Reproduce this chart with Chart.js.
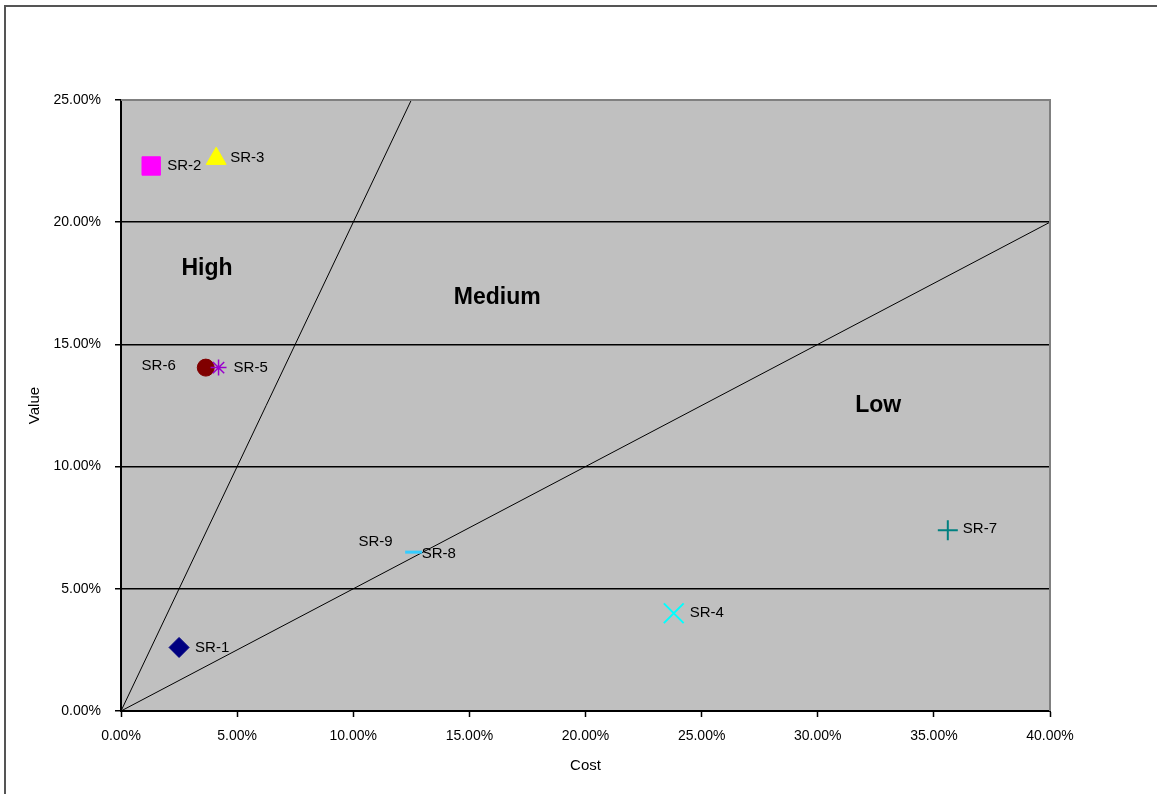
<!DOCTYPE html>
<html>
<head>
<meta charset="utf-8">
<script src="https://cdn.jsdelivr.net/npm/chart.js@4/dist/chart.umd.min.js"></script>
<style>
  html, body { margin: 0; padding: 0; background: #fff; }
  #wrap { position: relative; width: 1157px; height: 794px; overflow: hidden; }
  #frame { position: absolute; left: 4px; top: 5px; width: 1300px; height: 900px;
           border-left: 2px solid #555; border-top: 2px solid #555; }
  canvas { position: absolute; left: 0; top: 0; }
</style>
</head>
<body>
<div id="wrap">
  <div id="frame"></div>
  <canvas id="chart" width="1157" height="794"></canvas>
</div>
<script>
// data (percent)
const srNames = ["SR-1", "SR-2", "SR-3", "SR-4", "SR-5", "SR-6", "SR-7", "SR-8", "SR-9"];
const srCost  = [2.5, 1.3, 4.1, 23.8, 4.2, 3.65, 35.6, 12.6, 12.6];
const srValue = [2.6, 22.3, 22.6, 4.0, 14.05, 14.05, 7.4, 6.5, 6.5];

const zoneNames = ["High", "Medium", "Low"];
const zoneCost  = [3.7, 16.2, 32.6];
const zoneValue = [18.1, 16.9, 12.5];

// boundary lines  value = 2*cost  and  value = 0.5*cost
const highLineCost  = [0, 12.5];
const highLineValue = [0, 25];
const lowLineCost   = [0, 40];
const lowLineValue  = [0, 20];

const xTickValues = [0, 5, 10, 15, 20, 25, 30, 35, 40];
const yTickValues = [0, 5, 10, 15, 20, 25];

// marker look for each SR point
const markerStyle = ["rectRot", "rect", "triangle", "crossRot", "star", "circle", "cross", "line", "circle"];
const markerColor = ["#000080", "#FF00FF", "#FFFF00", "#00FFFF", "#9900CC", "#800000", "#008080", "#33CCFF", "#000000"];
const markerSize  = [10, 13, 11.5, 14, 8, 8.5, 10, 8.5, 0];
const markerLine  = [1, 1, 1, 2, 1.5, 1, 2, 3, 1];
// label offset from point (dx, dy) and alignment
const labelDx    = [16, 16, 14, 16, 15, -30, 15, 8, -21];
const labelDy    = [0, 0, -1, 0, 0, -2, -1, 2, -10];
const labelAlign = ["left", "left", "left", "left", "left", "right", "left", "left", "right"];

const datasets = srNames.map((name, i) => ({
  label: name,
  data: [{ x: srCost[i], y: srValue[i] }],
  pointStyle: markerStyle[i],
  pointRadius: markerSize[i],
  pointBackgroundColor: markerColor[i],
  pointBorderColor: markerColor[i],
  pointBorderWidth: markerLine[i],
  order: 0
}));

datasets.push({
  label: "high-boundary",
  data: highLineCost.map((c, i) => ({ x: c, y: highLineValue[i] })),
  showLine: true, borderColor: "#000", borderWidth: 1, pointRadius: 0, order: 5
});
datasets.push({
  label: "low-boundary",
  data: lowLineCost.map((c, i) => ({ x: c, y: lowLineValue[i] })),
  showLine: true, borderColor: "#000", borderWidth: 1, pointRadius: 0, order: 5
});

const plotArea = {
  id: "plotArea",
  beforeDraw(chart) {
    const { ctx, chartArea: a } = chart;
    ctx.save();
    ctx.fillStyle = "#C0C0C0";
    ctx.fillRect(a.left, a.top, a.right - a.left, a.bottom - a.top);
    ctx.restore();
  },
  afterDraw(chart) {
    const { ctx, chartArea: a } = chart;
    ctx.save();
    ctx.strokeStyle = "#808080";
    ctx.lineWidth = 2;
    ctx.beginPath();
    ctx.moveTo(a.left, a.top);
    ctx.lineTo(a.right, a.top);
    ctx.lineTo(a.right, a.bottom);
    ctx.stroke();
    ctx.restore();
  }
};

const textLabels = {
  id: "textLabels",
  afterDatasetsDraw(chart) {
    const { ctx } = chart;
    const xs = chart.scales.x, ys = chart.scales.y;
    ctx.save();
    ctx.fillStyle = "#000";
    ctx.textBaseline = "middle";
    ctx.font = "15px Arial, 'Liberation Sans', sans-serif";
    srNames.forEach((name, i) => {
      ctx.textAlign = labelAlign[i];
      ctx.fillText(name, xs.getPixelForValue(srCost[i]) + labelDx[i], ys.getPixelForValue(srValue[i]) + labelDy[i]);
    });
    ctx.font = "bold 23px Arial, 'Liberation Sans', sans-serif";
    ctx.textAlign = "center";
    zoneNames.forEach((name, i) => {
      ctx.fillText(name, xs.getPixelForValue(zoneCost[i]), ys.getPixelForValue(zoneValue[i]));
    });
    ctx.restore();
  }
};

const tickFont = { family: "Arial, 'Liberation Sans', sans-serif", size: 14 };
const titleFont = { family: "Arial, 'Liberation Sans', sans-serif", size: 15 };

new Chart(document.getElementById("chart"), {
  type: "scatter",
  data: { datasets },
  options: {
    responsive: false,
    devicePixelRatio: 1,
    animation: false,
    events: [],
    layout: { padding: { left: 15, top: 100, right: 107, bottom: 10 } },
    plugins: { legend: { display: false }, tooltip: { enabled: false } },
    scales: {
      x: {
        type: "linear", min: 0, max: 40,
        afterBuildTicks: (s) => { s.ticks = xTickValues.map(v => ({ value: v })); },
        afterFit: (s) => { s.height = 73; },
        ticks: { color: "#000", font: tickFont, padding: 11, maxRotation: 0,
                 callback: (v) => v.toFixed(2) + "%" },
        grid: { drawOnChartArea: false, tickLength: 6, tickColor: "#000", tickWidth: 1.5 },
        border: { color: "#000", width: 2 },
        title: { display: true, text: "Cost", color: "#000", padding: 9, font: titleFont }
      },
      y: {
        type: "linear", min: 0, max: 25,
        afterBuildTicks: (s) => { s.ticks = yTickValues.map(v => ({ value: v })); },
        afterFit: (s) => { s.width = 106; },
        ticks: { color: "#000", font: tickFont, padding: 14,
                 callback: (v) => v.toFixed(2) + "%" },
        grid: {
          color: (c) => (c.tick && c.tick.value === 25) ? "rgba(0,0,0,0)" : "#000",
          lineWidth: 1.5, tickLength: 6, tickColor: "#000", tickWidth: 1.5
        },
        border: { color: "#000", width: 2 },
        title: { display: true, text: "Value", color: "#000", padding: 11, font: titleFont }
      }
    }
  },
  plugins: [plotArea, textLabels]
});
</script>
</body>
</html>
